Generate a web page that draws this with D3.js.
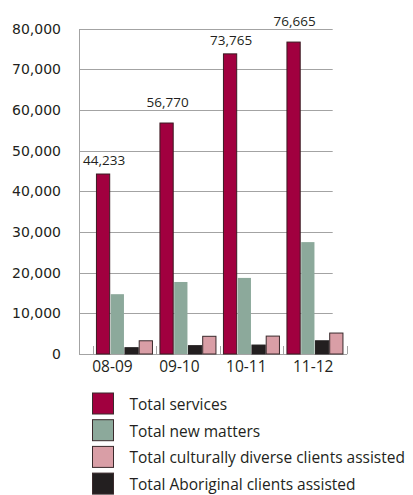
<!DOCTYPE html>
<html>
<head>
<meta charset="utf-8">
<script src="https://cdn.jsdelivr.net/npm/d3@7"></script>
<style>
  html, body { margin: 0; padding: 0; background: #fff; }
  svg { display: block; }
</style>
</head>
<body>
<svg id="chart" width="413" height="495"></svg>
<script>
// Financial years on the category axis
const years = ["08-09", "09-10", "10-11", "11-12"];

// Series values per year
const totalServices = [44233, 56770, 73765, 76665];
const totalNewMatters = [14700, 17700, 18700, 27500];
const totalAboriginal = [1550, 2050, 2200, 3250];
const totalCulturallyDiverse = [3250, 4350, 4400, 5150];

// Value axis ticks
const yTicks = [0, 10000, 20000, 30000, 40000, 50000, 60000, 70000, 80000];

// Series in drawing order within each year group
const seriesKeys = ["services", "newMatters", "aboriginal", "diverse"];
const seriesValues = {
  services: totalServices,
  newMatters: totalNewMatters,
  aboriginal: totalAboriginal,
  diverse: totalCulturallyDiverse
};
const seriesNames = {
  services: "Total services",
  newMatters: "Total new matters",
  diverse: "Total culturally diverse clients assisted",
  aboriginal: "Total Aboriginal clients assisted"
};
const legendOrder = ["services", "newMatters", "diverse", "aboriginal"];

const colors = {
  services: "#a1003f",
  newMatters: "#8ca99b",
  diverse: "#d99ea6",
  aboriginal: "#231f20"
};
const strokes = {
  services: "#3a1a22",
  newMatters: "none",
  diverse: "#3a2a2c",
  aboriginal: "#231f20"
};

const svg = d3.select("#chart");

// Floor depth offset: the wall (gridlines) sits left of the category floor
const depth = 13.7;
const floorLeft = 92.7, floorRight = 346.7;
const baseY = 354, topY = 28.5;

const y = d3.scaleLinear().domain([0, 80000]).range([baseY, topY]);

const x0 = d3.scaleBand()
  .domain(years)
  .range([floorLeft, floorRight])
  .paddingInner(0.118)
  .paddingOuter(0.059);

const x1 = d3.scaleBand()
  .domain(seriesKeys)
  .range([0, x0.bandwidth()])
  .paddingInner(0.07);

// Category labels are centred along the full baseline (wall edge to floor end)
const xLabel = d3.scaleBand()
  .domain(years)
  .range([floorLeft - depth, floorRight]);

// Gridlines on the back wall
const grid = svg.append("g");
grid.selectAll("line")
  .data(yTicks.filter(t => t > 0))
  .join("line")
  .attr("x1", floorLeft - depth)
  .attr("x2", floorRight - depth - 0.3)
  .attr("y1", d => Math.round(y(d)) + 0.5)
  .attr("y2", d => Math.round(y(d)) + 0.5)
  .attr("stroke", "#a3a3a3")
  .attr("stroke-width", 1);

// Left wall edge
svg.append("line")
  .attr("x1", floorLeft - depth + 0.5).attr("x2", floorLeft - depth + 0.5)
  .attr("y1", Math.round(y(80000)) + 0.5).attr("y2", baseY)
  .attr("stroke", "#a3a3a3");

// Baseline along the floor
svg.append("line")
  .attr("x1", floorLeft - depth).attr("x2", floorRight + 0.5)
  .attr("y1", baseY + 0.5).attr("y2", baseY + 0.5)
  .attr("stroke", "#a3a3a3");

// Category separators rising from the floor
const boundaries = years.map(d => x0(d) - x0.step() * x0.paddingOuter()).concat([floorRight]);
svg.append("g").selectAll("line")
  .data(boundaries)
  .join("line")
  .attr("x1", d => Math.round(d) + 0.5)
  .attr("x2", d => Math.round(d) + 0.5)
  .attr("y1", baseY)
  .attr("y2", baseY - 8)
  .attr("stroke", "#a3a3a3");

// Y-axis tick labels
svg.append("g").selectAll("text")
  .data(yTicks)
  .join("text")
  .attr("x", 61)
  .attr("y", d => y(d) + 5)
  .attr("text-anchor", "end")
  .attr("font-family", "DejaVu Sans, sans-serif")
  .attr("font-size", 14)
  .attr("fill", "#231f20")
  .text(d => d3.format(",")(d));

// Bars
const groups = svg.append("g").selectAll("g")
  .data(years)
  .join("g")
  .attr("transform", d => `translate(${x0(d)},0)`);

groups.selectAll("rect")
  .data((d, i) => seriesKeys.map(k => ({ key: k, value: seriesValues[k][i] })))
  .join("rect")
  .attr("x", d => x1(d.key))
  .attr("y", d => y(d.value))
  .attr("width", x1.bandwidth())
  .attr("height", d => baseY - y(d.value))
  .attr("fill", d => colors[d.key])
  .attr("stroke", d => strokes[d.key])
  .attr("stroke-width", 1);

// Value labels above the Total services bars; a label that would
// straddle a gridline is lifted to sit just above that gridline
const labelGap = 9, labelHeight = 10;
function labelBaseline(v) {
  let base = y(v) - labelGap;
  const top = base - labelHeight;
  yTicks.forEach(t => {
    const gy = Math.round(y(t)) + 0.5;
    if (gy > top && gy < base) base = gy - 4;
  });
  return base;
}

svg.append("g").selectAll("text")
  .data(years)
  .join("text")
  .attr("x", (d, i) => x0(d) + x1("services") + x1.bandwidth() / 2 + 1)
  .attr("y", (d, i) => labelBaseline(totalServices[i]))
  .attr("text-anchor", "middle")
  .attr("font-family", "Open Sans, sans-serif")
  .attr("font-size", 13.5)
  .attr("fill", "#231f20")
  .text((d, i) => d3.format(",")(totalServices[i]));

// Category labels
svg.append("g").selectAll("text")
  .data(years)
  .join("text")
  .attr("x", d => xLabel(d) + xLabel.bandwidth() / 2)
  .attr("y", 372)
  .attr("text-anchor", "middle")
  .attr("font-family", "Open Sans, sans-serif")
  .attr("font-size", 15.5)
  .attr("fill", "#231f20")
  .text(d => d);

// Legend
const legend = svg.append("g").selectAll("g")
  .data(legendOrder)
  .join("g")
  .attr("transform", (d, i) => `translate(92.5,${393 + i * 26.7})`);

legend.append("rect")
  .attr("width", 21)
  .attr("height", 21)
  .attr("fill", d => colors[d])
  .attr("stroke", "#3a2a2c")
  .attr("stroke-width", 1);

legend.append("text")
  .attr("x", 37)
  .attr("y", 17)
  .attr("font-family", "Open Sans, sans-serif")
  .attr("font-size", 15.5)
  .attr("fill", "#231f20")
  .text(d => seriesNames[d]);
</script>
</body>
</html>
